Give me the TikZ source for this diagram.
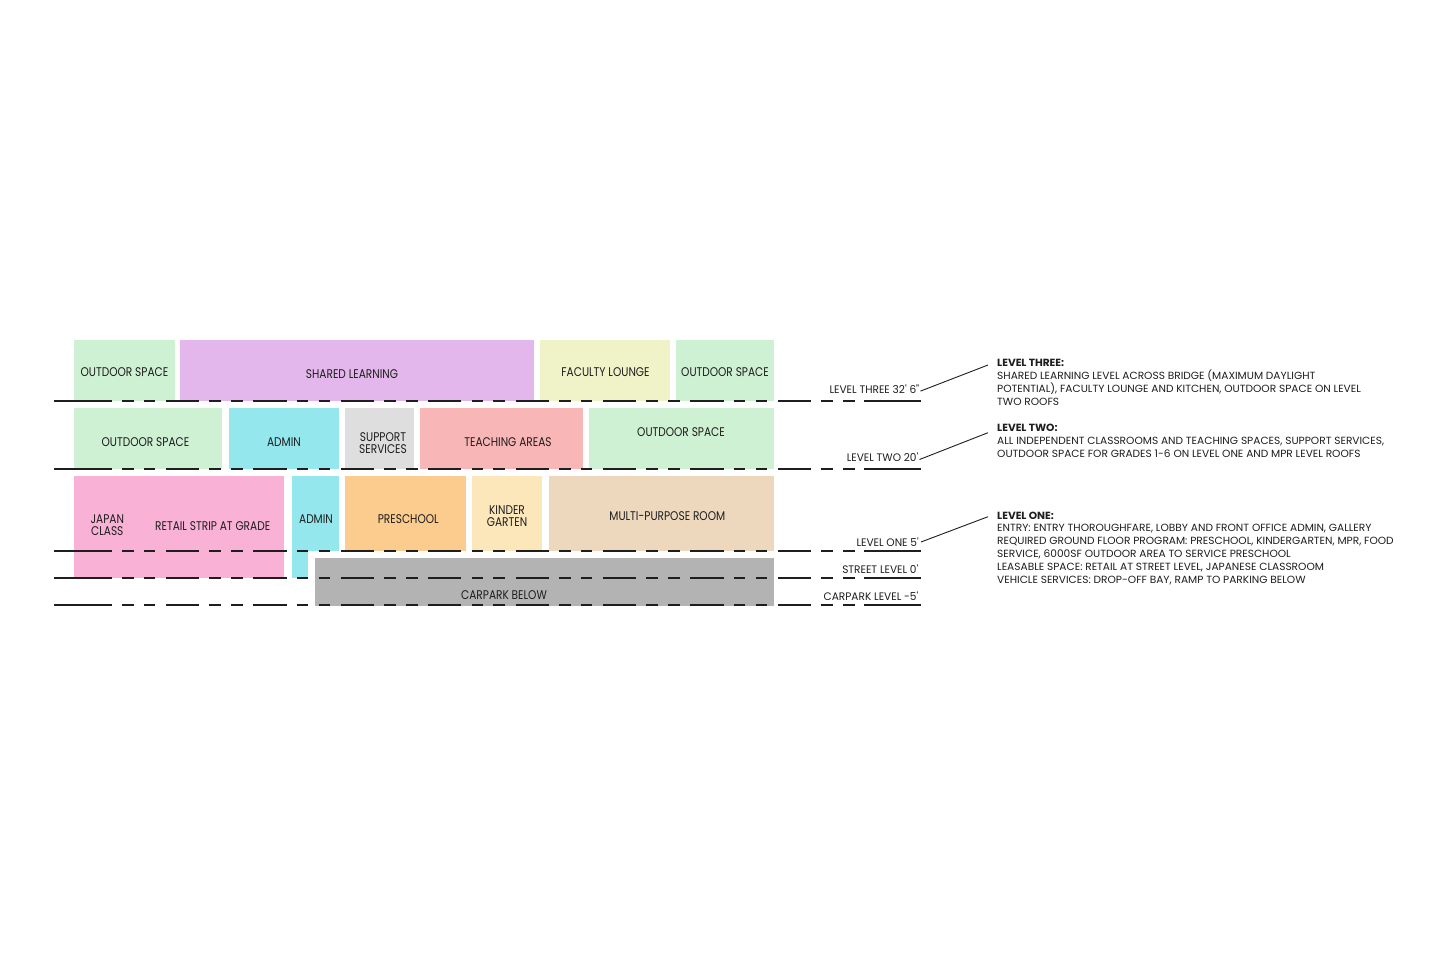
\documentclass[tikz,border=0pt]{standalone}
\usepackage{fontspec}
\setmainfont[FakeStretch=0.84]{Poppins}
\newfontfamily\txtfont[FakeStretch=1.02]{Poppins}
\newfontfamily\lvfont[FakeStretch=0.97]{Poppins}
\usetikzlibrary{calc}
\definecolor{cOut}{RGB}{206,240,211}
\definecolor{cShared}{RGB}{227,183,235}
\definecolor{cFac}{RGB}{240,243,200}
\definecolor{cAdmin}{RGB}{148,231,236}
\definecolor{cSupp}{RGB}{222,222,222}
\definecolor{cTeach}{RGB}{249,182,182}
\definecolor{cRetail}{RGB}{249,177,214}
\definecolor{cPre}{RGB}{252,204,142}
\definecolor{cKin}{RGB}{252,231,186}
\definecolor{cMpr}{RGB}{237,216,190}
\definecolor{cCar}{RGB}{179,179,179}
\definecolor{cInk}{RGB}{30,30,30}
\begin{document}
\begin{tikzpicture}[x=1pt,y=-1pt,
  box/.style={anchor=north west, inner sep=0pt, outer sep=0pt, draw=none},
  blabel/.style={anchor=base, inner sep=0pt, text=cInk, font=\fontsize{12.6}{12.6}\selectfont},
  lvlabel/.style={anchor=base east, inner sep=0pt, text=cInk, font=\lvfont\fontsize{10.9}{10.9}\selectfont},
  txt/.style={anchor=base west, inner sep=0pt, text=cInk, font=\txtfont\fontsize{10.4}{13}\selectfont},
  head/.style={txt, font=\txtfont\fontsize{10.4}{13}\selectfont\bfseries},
  lvl/.style={draw=cInk, line width=1.2pt},
  leader/.style={draw=cInk, line width=0.9pt}]
\useasboundingbox[fill=white] (0,0) rectangle (1444,963);

% ---- level three row
\node[box, fill=cOut, minimum width=101pt, minimum height=61pt] (o3a) at (74,340) {};
\node[box, fill=cShared, minimum width=354pt, minimum height=61pt] (sh) at (180,340) {};
\node[box, fill=cFac, minimum width=130pt, minimum height=61pt] (fac) at (540,340) {};
\node[box, fill=cOut, minimum width=98pt, minimum height=61pt] (o3b) at (676,340) {};

% ---- level two row
\node[box, fill=cOut, minimum width=148pt, minimum height=61pt] (o2a) at (74,408) {};
\node[box, fill=cAdmin, minimum width=110pt, minimum height=61pt] (ad2) at (229,408) {};
\node[box, fill=cSupp, minimum width=69pt, minimum height=61pt] (sup) at (345,408) {};
\node[box, fill=cTeach, minimum width=163pt, minimum height=61pt] (tea) at (420,408) {};
\node[box, fill=cOut, minimum width=185pt, minimum height=61pt] (o2b) at (589,408) {};

% ---- level one row
\node[box, fill=cRetail, minimum width=210pt, minimum height=102pt] (ret) at (74,476) {};
\node[box, fill=cAdmin, minimum width=47pt, minimum height=75pt] (ad1) at (292,476) {};
\node[box, fill=cAdmin, minimum width=16pt, minimum height=28pt] (ad1s) at (292,550) {};
\node[box, fill=cPre, minimum width=121pt, minimum height=75pt] (pre) at (345,476) {};
\node[box, fill=cKin, minimum width=70pt, minimum height=75pt] (kin) at (472,476) {};
\node[box, fill=cMpr, minimum width=225pt, minimum height=75pt] (mpr) at (549,476) {};
\node[box, fill=cCar, minimum width=459pt, minimum height=48pt] (car) at (315,558) {};

% ---- box labels
\node[blabel] (l1) at (124.5,376.7) {OUTDOOR SPACE};
\node[blabel] (l2) at (352,378.3) {SHARED LEARNING};
\node[blabel] (l3) at (605.5,376.7) {FACULTY LOUNGE};
\node[blabel] (l4) at (725,376.7) {OUTDOOR SPACE};
\node[blabel] (l5) at (145.5,446) {OUTDOOR SPACE};
\node[blabel] (l6) at (284,446) {ADMIN};
\node[blabel] (l7a) at (383,441) {SUPPORT};
\node[blabel] (l7b) at (383,453.3) {SERVICES};
\node[blabel] (l8) at (508,446) {TEACHING AREAS};
\node[blabel] (l9) at (681,436) {OUTDOOR SPACE};
\node[blabel] (l10a) at (107.3,523.3) {JAPAN};
\node[blabel] (l10b) at (107.3,535.7) {CLASS};
\node[blabel] (l11) at (212.7,530) {RETAIL STRIP AT GRADE};
\node[blabel] (l12) at (316,523.3) {ADMIN};
\node[blabel] (l13) at (408.3,523.3) {PRESCHOOL};
\node[blabel] (l14a) at (507,514) {KINDER};
\node[blabel] (l14b) at (507,526.7) {GARTEN};
\node[blabel] (l15) at (667.3,520) {MULTI-PURPOSE ROOM};
\node[blabel] (l16) at (504,599) {CARPARK BELOW};

% ---- level lines
\foreach \yy in {401,469,551,578,605} {
  \draw[lvl, dash pattern=on 33.2pt off 10.2pt on 11.6pt off 10.2pt on 11.6pt off 10.6pt] (78.6,\yy) -- (897.6,\yy);
  \draw[lvl] (54,\yy) -- (112,\yy);
  \draw[lvl] (864.4,\yy) -- (921,\yy);
}

% ---- level labels
\node[lvlabel] (lv3) at (919.5,393.3) {LEVEL THREE 32' 6"};
\node[lvlabel] (lv2) at (918.5,461.3) {LEVEL TWO 20'};
\node[lvlabel] (lv1) at (919,546) {LEVEL ONE 5'};
\node[lvlabel] (lv0) at (918.5,573.3) {STREET LEVEL 0'};
\node[lvlabel] (lvm) at (918.5,600) {CARPARK LEVEL -5'};

% ---- description texts
\node[head] (h3) at (997,366.7) {LEVEL THREE:};
\node[txt] (t3a) at (997,379.5) {SHARED LEARNING LEVEL ACROSS BRIDGE (MAXIMUM DAYLIGHT};
\node[txt] (t3b) at (997,392.3) {POTENTIAL), FACULTY LOUNGE AND KITCHEN, OUTDOOR SPACE ON LEVEL};
\node[txt] (t3c) at (997,405.3) {TWO ROOFS};
\node[head] (h2) at (997,431.7) {LEVEL TWO:};
\node[txt] (t2a) at (997,444.3) {ALL INDEPENDENT CLASSROOMS AND TEACHING SPACES, SUPPORT SERVICES,};
\node[txt] (t2b) at (997,457.3) {OUTDOOR SPACE FOR GRADES 1-6 ON LEVEL ONE AND MPR LEVEL ROOFS};
\node[head] (h1) at (997,519.3) {LEVEL ONE:};
\node[txt] (t1a) at (997,531.3) {ENTRY: ENTRY THOROUGHFARE, LOBBY AND FRONT OFFICE ADMIN, GALLERY};
\node[txt] (t1b) at (997,544.3) {REQUIRED GROUND FLOOR PROGRAM: PRESCHOOL, KINDERGARTEN, MPR, FOOD};
\node[txt] (t1c) at (997,557.3) {SERVICE, 6000SF OUTDOOR AREA TO SERVICE PRESCHOOL};
\node[txt] (t1d) at (997,570.6) {LEASABLE SPACE: RETAIL AT STREET LEVEL, JAPANESE CLASSROOM};
\node[txt] (t1e) at (997,583.7) {VEHICLE SERVICES: DROP-OFF BAY, RAMP TO PARKING BELOW};

% ---- leaders
\coordinate (e3) at (988,365);
\coordinate (e2) at (988,432.7);
\coordinate (e1) at (988,516.7);
\draw[leader] ($(lv3.base east)+(1,-2.2)$) -- (e3);
\draw[leader] ($(lv2.base east)+(1,-1.8)$) -- (e2);
\draw[leader] ($(lv1.base east)+(2,-4)$) -- (e1);
\end{tikzpicture}
\end{document}
